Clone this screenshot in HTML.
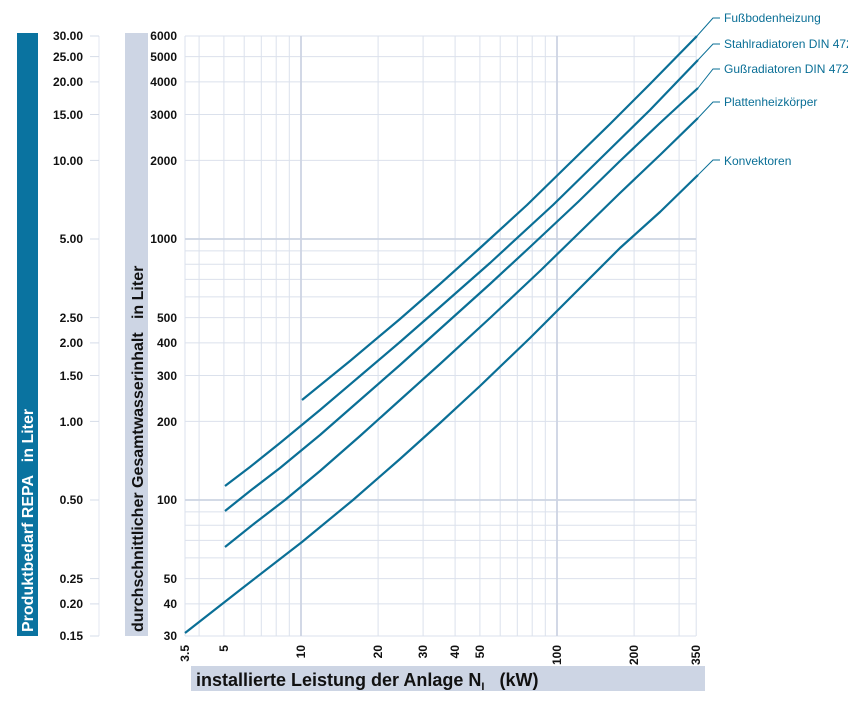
<!DOCTYPE html>
<html><head><meta charset="utf-8"><style>
body{margin:0;background:#fff;width:848px;height:715px;overflow:hidden;font-family:"Liberation Sans",sans-serif}
</style></head><body>
<svg width="848" height="715" xmlns="http://www.w3.org/2000/svg" font-family="Liberation Sans, sans-serif">
<rect x="17" y="33" width="21" height="603" fill="#0a73a0"/>
<text transform="translate(33,632) rotate(-90)" font-size="16" font-weight="bold" fill="#fff" xml:space="preserve">Produktbedarf REPA   in Liter</text>
<rect x="125" y="33" width="23" height="603" fill="#cdd5e4"/>
<text transform="translate(143,632) rotate(-90)" font-size="16" font-weight="bold" fill="#111" xml:space="preserve">durchschnittlicher Gesamtwasserinhalt   in Liter</text>
<line x1="99" y1="36" x2="99" y2="636" stroke="#e3e7f0" stroke-width="1"/>
<g stroke="#d6dce8" stroke-width="1">
<line x1="90" y1="36" x2="99" y2="36"/><line x1="90" y1="56.6" x2="99" y2="56.6"/><line x1="90" y1="81.9" x2="99" y2="81.9"/><line x1="90" y1="114.5" x2="99" y2="114.5"/><line x1="90" y1="160.4" x2="99" y2="160.4"/><line x1="90" y1="239" x2="99" y2="239"/><line x1="90" y1="317.6" x2="99" y2="317.6"/><line x1="90" y1="342.9" x2="99" y2="342.9"/><line x1="90" y1="375.5" x2="99" y2="375.5"/><line x1="90" y1="421.4" x2="99" y2="421.4"/><line x1="90" y1="500" x2="99" y2="500"/><line x1="90" y1="578.6" x2="99" y2="578.6"/><line x1="90" y1="603.9" x2="99" y2="603.9"/><line x1="90" y1="636" x2="99" y2="636"/>
</g>
<g font-size="12" font-weight="bold" fill="#111" text-anchor="end">
<text x="83" y="40">30.00</text><text x="83" y="61">25.00</text><text x="83" y="86">20.00</text><text x="83" y="119">15.00</text><text x="83" y="165">10.00</text><text x="83" y="243">5.00</text><text x="83" y="322">2.50</text><text x="83" y="347">2.00</text><text x="83" y="380">1.50</text><text x="83" y="426">1.00</text><text x="83" y="504">0.50</text><text x="83" y="583">0.25</text><text x="83" y="608">0.20</text><text x="83" y="640">0.15</text>
<text x="177" y="40">6000</text><text x="177" y="61">5000</text><text x="177" y="86">4000</text><text x="177" y="119">3000</text><text x="177" y="165">2000</text><text x="177" y="243">1000</text><text x="177" y="322">500</text><text x="177" y="347">400</text><text x="177" y="380">300</text><text x="177" y="426">200</text><text x="177" y="504">100</text><text x="177" y="583">50</text><text x="177" y="608">40</text><text x="177" y="640">30</text>
</g>
<g stroke="#dbe1ec" stroke-width="1">
<line x1="185" y1="36" x2="185" y2="636"/><line x1="199.1" y1="36" x2="199.1" y2="636"/><line x1="223.9" y1="36" x2="223.9" y2="636"/><line x1="244.2" y1="36" x2="244.2" y2="636"/><line x1="261.3" y1="36" x2="261.3" y2="636"/><line x1="276.2" y1="36" x2="276.2" y2="636"/><line x1="289.3" y1="36" x2="289.3" y2="636"/><line x1="378.1" y1="36" x2="378.1" y2="636"/><line x1="423.1" y1="36" x2="423.1" y2="636"/><line x1="455.1" y1="36" x2="455.1" y2="636"/><line x1="479.9" y1="36" x2="479.9" y2="636"/><line x1="500.2" y1="36" x2="500.2" y2="636"/><line x1="517.3" y1="36" x2="517.3" y2="636"/><line x1="532.2" y1="36" x2="532.2" y2="636"/><line x1="545.3" y1="36" x2="545.3" y2="636"/><line x1="634.1" y1="36" x2="634.1" y2="636"/><line x1="679.1" y1="36" x2="679.1" y2="636"/><line x1="696.2" y1="36" x2="696.2" y2="636"/>
<line x1="185" y1="36" x2="696" y2="36"/><line x1="185" y1="56.6" x2="696" y2="56.6"/><line x1="185" y1="81.9" x2="696" y2="81.9"/><line x1="185" y1="114.5" x2="696" y2="114.5"/><line x1="185" y1="160.4" x2="696" y2="160.4"/><line x1="185" y1="250.9" x2="696" y2="250.9"/><line x1="185" y1="264.3" x2="696" y2="264.3"/><line x1="185" y1="279.4" x2="696" y2="279.4"/><line x1="185" y1="296.9" x2="696" y2="296.9"/><line x1="185" y1="317.6" x2="696" y2="317.6"/><line x1="185" y1="342.9" x2="696" y2="342.9"/><line x1="185" y1="375.5" x2="696" y2="375.5"/><line x1="185" y1="421.4" x2="696" y2="421.4"/><line x1="185" y1="511.9" x2="696" y2="511.9"/><line x1="185" y1="525.3" x2="696" y2="525.3"/><line x1="185" y1="540.4" x2="696" y2="540.4"/><line x1="185" y1="557.9" x2="696" y2="557.9"/><line x1="185" y1="578.6" x2="696" y2="578.6"/><line x1="185" y1="603.9" x2="696" y2="603.9"/><line x1="185" y1="636" x2="696" y2="636"/>
</g>
<g stroke="#cdd4e3" stroke-width="1.8">
<line x1="301" y1="36" x2="301" y2="636"/><line x1="557" y1="36" x2="557" y2="636"/>
<line x1="185" y1="239" x2="696" y2="239"/><line x1="185" y1="500" x2="696" y2="500"/>
</g>
<g font-size="12" font-weight="bold" fill="#111" text-anchor="end">
<text transform="translate(189,645) rotate(-90)">3.5</text><text transform="translate(228,645) rotate(-90)">5</text><text transform="translate(305,645) rotate(-90)">10</text><text transform="translate(382,645) rotate(-90)">20</text><text transform="translate(427,645) rotate(-90)">30</text><text transform="translate(459,645) rotate(-90)">40</text><text transform="translate(484,645) rotate(-90)">50</text><text transform="translate(561,645) rotate(-90)">100</text><text transform="translate(638,645) rotate(-90)">200</text><text transform="translate(700,645) rotate(-90)">350</text>
</g>
<rect x="191" y="666" width="514" height="25" fill="#cdd5e4"/>
<text x="196" y="686" font-size="18" font-weight="bold" fill="#111" xml:space="preserve">installierte Leistung der Anlage N<tspan font-size="11" dy="4">I</tspan><tspan dy="-4">   (kW)</tspan></text>
<g fill="none" stroke="#0a6f96" stroke-width="2.2" stroke-linejoin="round">
<polyline points="302,400 350,361 400,319 440,284 480,248 527,205 570,163 610,124 650,84 697,36"/>
<polyline points="225,486 250,467 280,443 320,410 360,376 400,342 440,307 490,263 553,205 600,159 650,110 698,60"/>
<polyline points="225,511 250,491 280,468 320,435 360,400 400,365 440,329 490,284 530,247 578,202 620,161 660,123 698,88"/>
<polyline points="225,547 255,523 285,500 320,471 360,436 400,400 440,364 490,318 540,271 580,232 620,193 660,155 698,118"/>
<polyline points="185,633 240,590 302,542 353,500 400,459 440,423 480,386 530,338 580,288 620,248 660,212 698,175"/>
</g>
<g fill="none" stroke="#0a6f96" stroke-width="1">
<polyline points="697,36 713,18 720,18"/>
<polyline points="698,60 713,44 720,44"/>
<polyline points="698,88 713,69 720,69"/>
<polyline points="698,118 713,102 720,102"/>
<polyline points="698,175 713,160 720,160"/>
</g>
<g font-size="12" fill="#0a6f96">
<text x="724" y="22">Fußbodenheizung</text>
<text x="724" y="48">Stahlradiatoren DIN 4722</text>
<text x="724" y="73">Gußradiatoren DIN 4720</text>
<text x="724" y="106">Plattenheizkörper</text>
<text x="724" y="165">Konvektoren</text>
</g>
</svg>
</body></html>
